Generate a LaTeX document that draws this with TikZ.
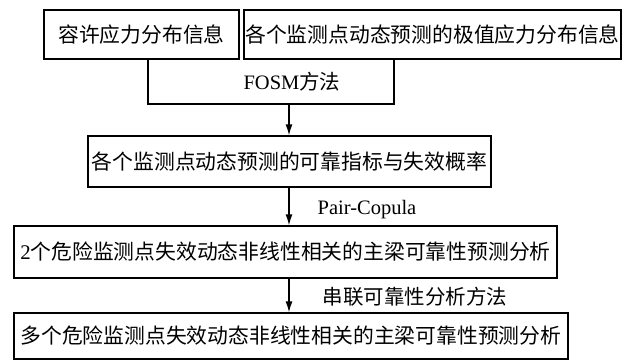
\documentclass[tikz,border=0pt]{standalone}
\usepackage{fontspec}
\setmainfont{Liberation Serif}
\newfontfamily\cjk{Noto Sans CJK SC}
\usetikzlibrary{arrows.meta}
\tikzset{
  box/.style={draw, line width=1.3pt, inner sep=0pt, anchor=center, font=\fontsize{20.8}{24}\selectfont},
  lbl/.style={inner sep=0pt, anchor=center, font=\fontsize{20.5}{24}\selectfont},
  ln/.style={line width=1.3pt},
  arr/.style={line width=1.3pt, -{Latex[length=11pt,width=7pt]}}
}
\begin{document}
\begin{tikzpicture}[x=1pt,y=-1pt]
\useasboundingbox (0,0) rectangle (624,359);
\node[box, minimum width=195pt, minimum height=49pt] (b1) at (141.5,34.5) {\cjk 容许应力分布信息};
\node[box, minimum width=377pt, minimum height=49pt] (b2) at (432.5,34.5) {\cjk 各个监测点动态预测的极值应力分布信息};
\coordinate (bl) at (148,104);
\coordinate (br) at (394,104);
\coordinate (m) at (289,104);
\draw[ln] (b1.south -| bl) -- (bl) -- (br) -- (b2.south -| br);
\node[lbl] (fosm) at (292,82) {FOSM{\cjk 方法}};
\node[box, minimum width=403pt, minimum height=51pt] (b3) at (289.5,161.5) {\cjk 各个监测点动态预测的可靠指标与失效概率};
\draw[arr] (m) -- (b3.north -| m);
\node[box, minimum width=543pt, minimum height=52pt] (b4) at (285.5,252) {2{\cjk 个危险监测点失效动态非线性相关的主梁可靠性预测分析}};
\draw[arr] (b3.south -| m) -- (b4.north -| m);
\node[lbl] (pc) at (367,210) {Pair-Copula};
\node[box, minimum width=554pt, minimum height=46pt] (b5) at (291,336) {\cjk 多个危险监测点失效动态非线性相关的主梁可靠性预测分析};
\draw[arr] (b4.south -| m) -- (b5.north -| m);
\node[lbl] (cl) at (415,297) {\cjk 串联可靠性分析方法};
\end{tikzpicture}
\end{document}
